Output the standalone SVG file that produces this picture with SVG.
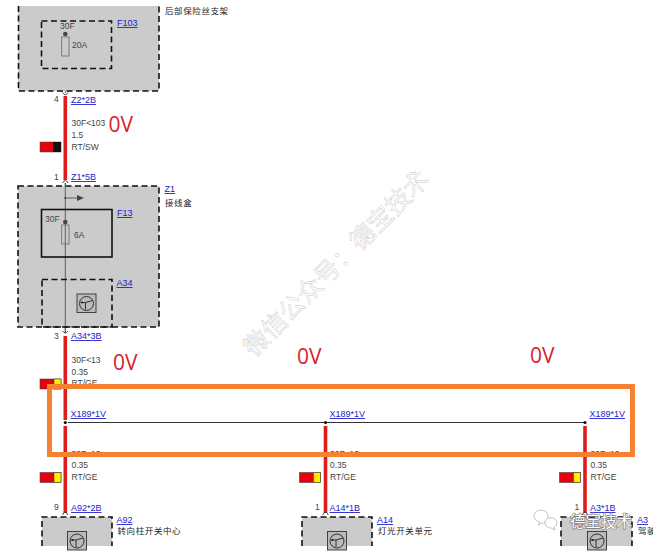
<svg xmlns="http://www.w3.org/2000/svg" width="653" height="551" viewBox="0 0 653 551">
<style>
text{font-family:"Liberation Sans","Noto Sans CJK SC",sans-serif;font-size:8.5px;fill:#444}
.box{fill:#cbcbcb}
.dash{fill:none;stroke:#111;stroke-width:1.6;stroke-dasharray:6 3.5}
.solid{fill:none;stroke:#111;stroke-width:1.6}
.lnk{fill:#2222cc;text-decoration:underline;font-size:9px}
.cn{fill:#222;font-size:8.5px;letter-spacing:.6px}
.v{fill:#d8202a;font-size:21px;font-family:"Open Sans","Liberation Sans",sans-serif}
.thin{stroke:#444;stroke-width:.8;fill:none}
.red{stroke:#dd1c1c;stroke-width:3.6;fill:none}
.fuse{fill:none;stroke:#666;stroke-width:.8}
.icon{fill:#bbb;stroke:#333;stroke-width:.9}
.ring{fill:none;stroke:#222;stroke-width:.9}
.wm{font-size:25px;fill:#fff;stroke:#c8c8c8;stroke-width:.45}
.wm2{font-size:15.500px;fill:#fff;stroke:#777;stroke-width:1.200;paint-order:stroke}
.cap{fill:none;stroke:#333;stroke-width:.9}
.orange{fill:none;stroke:#f58233;stroke-width:5}
</style>
<defs>
<g id="sw"><rect x="-9.500" y="-9.500" width="19" height="18.500" class="icon"/><circle cx="0" cy="0" r="7" class="ring"/><path d="M-6 -1H-1V6M-1 -1L6 -3" class="ring"/><circle cx="-4.500" cy="-1" r="1" fill="#222"/></g>
<g id="ye"><rect x="0" y="0" width="21" height="10" fill="#e8000f" stroke="#444" stroke-width=".6"/><rect x="14" y="0" width="7" height="10" fill="#ffee00" stroke="#444" stroke-width=".6"/></g>
</defs>

<g id="connectors">
<path class="thin" d="M65.300 34V93M65.300 183V333"/>
<path class="red" d="M65.300 96V180M65.300 336V420M65.300 426V513M325.500 426V513M585 426V513"/>
<path d="M68 422.500H585" stroke="#333" stroke-width="1" fill="none"/>
<path class="cap" d="M62.500 92.500Q65.300 97 68 92.500M62.500 183Q65.300 178 68 183M62.500 331Q65.300 335 68 331M62.500 515Q65.300 509 68 515M322.700 515Q325.500 509 328.300 515M582.200 515Q585 509 587.800 515"/>
<circle cx="65.300" cy="422.500" r="1.600" fill="#111"/><circle cx="325.500" cy="422.500" r="1.600" fill="#111"/><circle cx="585" cy="422.500" r="1.600" fill="#111"/>
</g>

<g id="F103-holder">
<rect class="box" x="18" y="6" width="141" height="85"/>
<path class="dash" d="M18.500 6V91H159V6"/>
<text x="165" y="14" class="cn">后部保险丝支架</text>
</g>
<g id="F103">
<rect class="dash" x="41.500" y="21" width="70" height="47.500"/>
<text x="60" y="29">30F</text>
<circle cx="65.300" cy="34" r="2.300" fill="#444"/>
<rect class="fuse" x="61.700" y="37" width="7.300" height="19"/>
<text x="72" y="48">20A</text>
<text class="lnk" x="117" y="26">F103</text>
</g>
<g id="wire-top-label">
<text x="54" y="102">4</text><text class="lnk" x="71" y="103">Z2*2B</text>
<text x="71.500" y="126">30F&lt;103</text><text x="71.500" y="138">1.5</text><text x="71.500" y="150">RT/SW</text>
<rect x="40" y="142" width="21" height="10" fill="#e8000f" stroke="#444" stroke-width=".5"/><rect x="53" y="142" width="8" height="10" fill="#111"/>
<text x="54" y="180">1</text><text class="lnk" x="71" y="180">Z1*5B</text>
<text class="v" x="108.500" y="132">0V</text>
</g>

<g id="Z1">
<rect class="box" x="18" y="186" width="141" height="141"/>
<rect class="dash" x="18" y="186" width="141" height="141"/>
<text class="lnk" x="164.500" y="192">Z1</text>
<text class="cn" x="165" y="206">接线盒</text>
<path class="thin" d="M65.300 198H78"/><path d="M77 195L84 198L77 201Z" fill="#444"/><circle cx="65.300" cy="198" r="1.100" fill="#444"/>
<path class="thin" d="M65.300 183V333"/>
</g>
<g id="F13">
<rect class="solid" x="41.500" y="209.500" width="70.500" height="47.500"/>
<text x="45" y="222">30F</text>
<circle cx="65.300" cy="222" r="2.300" fill="#444"/>
<rect class="fuse" x="61.700" y="225" width="7.300" height="19"/>
<text x="74" y="238">6A</text>
<text class="lnk" x="117" y="216">F13</text>
</g>
<g id="A34">
<rect class="dash" x="42" y="279.500" width="70" height="47.500"/>
<use href="#sw" x="86.500" y="303.500"/>
<text class="lnk" x="116.500" y="286">A34</text>
</g>
<g id="wire-mid-label">
<text x="54" y="339">3</text><text class="lnk" x="71" y="339">A34*3B</text>
<text x="71.500" y="363">30F&lt;13</text><text x="71.500" y="375">0.35</text><text x="71.500" y="386">RT/GE</text>
<use href="#ye" x="40" y="379"/>
<text class="v" x="113" y="370">0V</text>
<text class="lnk" x="70.500" y="417">X189*1V</text>
</g>

<g id="col1">
<text x="71.500" y="457">30F&lt;13</text><text x="71.500" y="468">0.35</text><text x="71.500" y="480">RT/GE</text>
<use href="#ye" x="40" y="472.500"/>
<text x="54" y="510">9</text><text class="lnk" x="71" y="511">A92*2B</text>
</g>
<g id="A92">
<rect class="box" x="42" y="517" width="70" height="29"/>
<path class="dash" d="M42 546V517H112V546"/>
<use href="#sw" x="77" y="541"/>
<text class="lnk" x="116.500" y="523">A92</text>
<text class="cn" x="117.500" y="534">转向柱开关中心</text>
</g>

<g id="col2">
<text class="lnk" x="329.500" y="417">X189*1V</text>
<text x="330" y="457">30F&lt;13</text><text x="330" y="468">0.35</text><text x="330" y="480">RT/GE</text>
<use href="#ye" x="299.500" y="472.500"/>
<text x="315" y="510">1</text><text class="lnk" x="329.500" y="511">A14*1B</text>
<text class="v" x="297" y="364">0V</text>
</g>
<g id="A14">
<rect class="box" x="302" y="517" width="70" height="29"/>
<path class="dash" d="M302 546V517H372V546"/>
<use href="#sw" x="337" y="541"/>
<text class="lnk" x="377" y="523">A14</text>
<text class="cn" x="378" y="534">灯光开关单元</text>
</g>

<g id="col3">
<text class="lnk" x="589.500" y="417">X189*1V</text>
<text x="590.500" y="457">30F&lt;13</text><text x="590.500" y="468">0.35</text><text x="590.500" y="480">RT/GE</text>
<use href="#ye" x="559.500" y="472.500"/>
<text x="574.500" y="510">1</text><text class="lnk" x="590" y="511">A3*1B</text>
<text class="v" x="530" y="363">0V</text>
</g>
<g id="A3">
<rect class="box" x="561" y="517" width="71" height="29"/>
<path class="dash" d="M561 546V517H632V546"/>
<use href="#sw" x="597" y="541"/>
<text class="lnk" x="637" y="523">A3</text>
<text class="cn" x="638" y="534">驾驶</text>
</g>

<rect id="highlight" class="orange" x="49.500" y="386.500" width="583" height="68"/>

<g id="watermark">
<text class="wm" transform="translate(254 358) rotate(-45)">微信公众号：德宝技术</text>
<path d="M548 516a7 6 0 1 0-8 6l-2 3 5-2a7 6 0 0 0 5-7Z" fill="#fff" stroke="#aaa" stroke-width=".7"/>
<path d="M545 522a6 5 0 1 1 9 5l1 3-4-2a6 5 0 0 1-6-6Z" fill="#fff" stroke="#aaa" stroke-width=".7"/>
<text class="wm2" x="570" y="527">德宝技术</text>
</g>
</svg>
